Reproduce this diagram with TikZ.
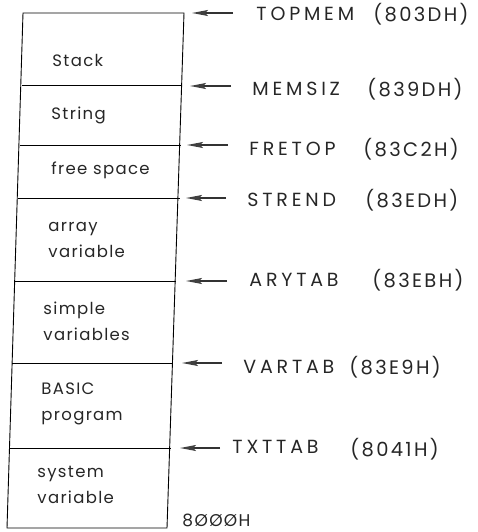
\documentclass[tikz,border=0pt]{standalone}
\usepackage{fontspec}
\setmainfont{Poppins}[LetterSpace=8]
\newfontfamily\addrfont{Poppins}[LetterSpace=12]
\newfontfamily\namefont{Poppins}[LetterSpace=20]
\usetikzlibrary{arrows.meta}
\begin{document}
\begin{tikzpicture}[x=1pt,y=-1pt,line width=0.9pt,
  every node/.style={inner sep=0pt,text=black!85},
  area/.style={anchor=west,align=left,font=\fontsize{16.5}{26}\selectfont},
  ptr/.style={-{Stealth[length=16pt,width=6pt,inset=3pt,fill=gray!55,color=black!75]},line width=1.8pt,black!80},
  addr/.style={anchor=west,font=\namefont\fontsize{19}{22}\selectfont},
  addrval/.style={anchor=west,font=\addrfont\fontsize{19.5}{22}\selectfont}]
\useasboundingbox (0,0) rectangle (478,532);
% box corners, left and right end of each line
\coordinate (L0) at (23,13);   \coordinate (R0) at (184,13);
\coordinate (L1) at (22,85);   \coordinate (R1) at (182,85);
\coordinate (L2) at (20,145);  \coordinate (R2) at (181,145);
\coordinate (L3) at (18,198);  \coordinate (R3) at (180,198);
\coordinate (L4) at (15,281);  \coordinate (R4) at (176,281);
\coordinate (L5) at (12,363);  \coordinate (R5) at (173,363);
\coordinate (L6) at (10,448);  \coordinate (R6) at (171,448);
\coordinate (L7) at (7,528);   \coordinate (R7) at (167,528);
\draw (L0) -- (L7) -- (R7) -- (R0) -- cycle;
\draw (L1) -- (R1);
\draw (L2) -- (R2);
\draw (L3) -- (R3);
\draw (L4) -- (R4);
\draw (L5) -- (R5);
\draw (L6) -- (R6);
% contents
\node[area] (stack) at (52,60) {Stack};
\node[area] (string) at (51,115) {String};
\node[area] (free) at (51,170) {free space};
\node[area] (array) at (48,240) {array\\variable};
\node[area] (simple) at (43,321) {simple\\variables};
\node[area] (basic) at (41,404) {BASIC\\program};
\node[area] (system) at (37,485) {system\\variable};
% pointer names and addresses
\node[addr] (topmem) at (256,14) {TOPMEM};
\node[addrval] (topmemv) at (373,14) {(803DH)};
\node[addr] (memsiz) at (252,89) {MEMSIZ};
\node[addrval] (memsizv) at (367,89) {(839DH)};
\node[addr] (fretop) at (249,149) {FRETOP};
\node[addrval] (fretopv) at (363,149) {(83C2H)};
\node[addr] (strend) at (247,200) {STREND};
\node[addrval] (strendv) at (365,200) {(83EDH)};
\node[addr] (arytab) at (249,280) {ARYTAB};
\node[addrval] (arytabv) at (372,280) {(83EBH)};
\node[addr] (vartab) at (243,367) {VARTAB};
\node[addrval] (vartabv) at (349,367) {(83E9H)};
\node[addr] (txttab) at (232,447) {TXTTAB};
\node[addrval] (txttabv) at (350,449) {(8041H)};
\node[anchor=west,font=\fontsize{17}{20}\selectfont] (base) at (182,520) {8ØØØH};
\coordinate (a0) at (233,13);  \coordinate (b0) at (192,13);
\coordinate (a1) at (231,86);  \coordinate (b1) at (190,86);
\coordinate (a2) at (228,145); \coordinate (b2) at (187,145);
\coordinate (a3) at (226,198); \coordinate (b3) at (186,198);
\coordinate (a4) at (227,281); \coordinate (b4) at (186,281);
\coordinate (a5) at (222,363); \coordinate (b5) at (182,363);
\coordinate (a6) at (220,448); \coordinate (b6) at (180,448);
\draw[ptr] (a0) -- (b0);
\draw[ptr] (a1) -- (b1);
\draw[ptr] (a2) -- (b2);
\draw[ptr] (a3) -- (b3);
\draw[ptr] (a4) -- (b4);
\draw[ptr] (a5) -- (b5);
\draw[ptr] (a6) -- (b6);
\end{tikzpicture}
\end{document}
